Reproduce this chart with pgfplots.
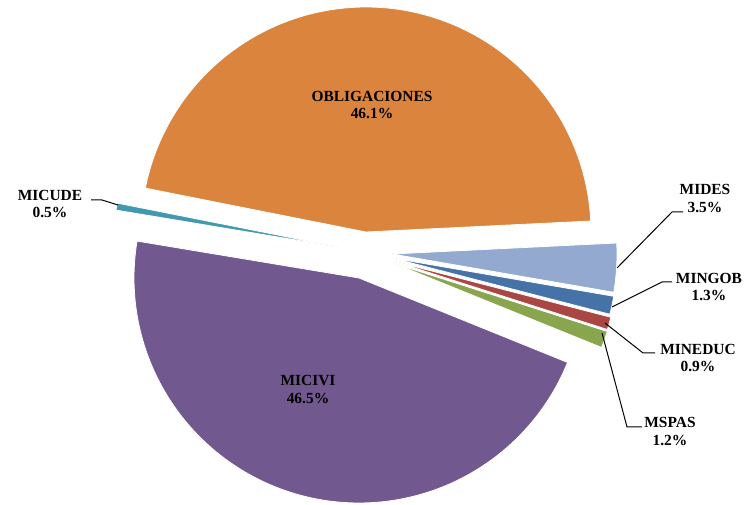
\documentclass[border=0pt]{standalone}
\usepackage{fontspec}
\setmainfont{Liberation Serif}
\usepackage{pgfplots}
\pgfplotsset{compat=1.18}
\definecolor{cOBL}{HTML}{DB843D}
\definecolor{cMIDES}{HTML}{93A9CF}
\definecolor{cMINGOB}{HTML}{4572A7}
\definecolor{cMINEDUC}{HTML}{AA4643}
\definecolor{cMSPAS}{HTML}{89A54E}
\definecolor{cMICIVI}{HTML}{71588F}
\definecolor{cMICUDE}{HTML}{4198AF}
\begin{document}
\begin{tikzpicture}
% shares (%), clockwise from MIDES
\pgfmathsetmacro\vMIDES{3.5}
\pgfmathsetmacro\vMINGOB{1.3}
\pgfmathsetmacro\vMINEDUC{0.9}
\pgfmathsetmacro\vMSPAS{1.2}
\pgfmathsetmacro\vMICIVI{46.5}
\pgfmathsetmacro\vMICUDE{0.5}
\pgfmathsetmacro\vOBL{46.1}
\pgfmathsetmacro\aA{2.8}
\pgfmathsetmacro\aB{\aA-3.6*\vMIDES}
\pgfmathsetmacro\aC{\aB-3.6*\vMINGOB}
\pgfmathsetmacro\aD{\aC-3.6*\vMINEDUC}
\pgfmathsetmacro\aE{\aD-3.6*\vMSPAS}
\pgfmathsetmacro\aF{\aE-3.6*\vMICIVI}
\pgfmathsetmacro\aG{\aF-3.6*\vMICUDE}
\pgfmathsetmacro\aH{\aG-3.6*\vOBL}
\begin{axis}[at={(0,0)}, anchor=south west, width=744bp, height=505bp,
  scale only axis, xmin=0, xmax=744, ymin=0, ymax=505, hide axis, clip=false]
\pgfplotsset{every axis plot/.append style={draw=white, line width=0.8bp, mark=none}}
% slices: tip (x,y), radius 225
\addplot[fill=cMIDES, domain=\aB:\aA, samples=30] ({392+225*cos(x)},{251+225*sin(x)}) -- (392,251) -- cycle;
\addplot[fill=cMINGOB, domain=\aC:\aB, samples=20] ({392+225*cos(x)},{247+225*sin(x)}) -- (392,247) -- cycle;
\addplot[fill=cMINEDUC, domain=\aD:\aC, samples=20] ({393+225*cos(x)},{244+225*sin(x)}) -- (393,244) -- cycle;
\addplot[fill=cMSPAS, domain=\aE:\aD, samples=20] ({393+225*cos(x)},{242+225*sin(x)}) -- (393,242) -- cycle;
\addplot[fill=cMICIVI, domain=\aF:\aE, samples=120] ({359+225*cos(x)},{227+225*sin(x)}) -- (359,227) -- cycle;
\addplot[fill=cMICUDE, domain=\aG:\aF, samples=10] ({338+225*cos(x)},{258+225*sin(x)}) -- (338,258) -- cycle;
\addplot[fill=cOBL, domain=\aH:\aG, samples=120] ({366+225*cos(x)},{273+225*sin(x)}) -- (366,273) -- cycle;
% leader lines
\addplot[draw=black, line width=1bp] coordinates {(617,237) (672,293) (683,293)};
\addplot[draw=black, line width=1bp] coordinates {(612,198) (662,223) (672,223)};
\addplot[draw=black, line width=1bp] coordinates {(605,182) (643,152) (655,152)};
\addplot[draw=black, line width=1bp] coordinates {(602,172) (627,78) (642,78)};
\addplot[draw=black, line width=1bp] coordinates {(118,300) (102,305) (91,305)};
% labels
\tikzset{lbl/.style={align=center, font=\fontsize{15.5}{18}\selectfont\bfseries, inner sep=0pt}}
\node[lbl] at (372,400) {OBLIGACIONES\\46.1\%};
\node[lbl] at (308,115.5) {MICIVI\\46.5\%};
\node[lbl] at (50,301) {MICUDE\\0.5\%};
\node[lbl] at (705,306.5) {MIDES\\3.5\%};
\node[lbl] at (709,218) {MINGOB\\1.3\%};
\node[lbl] at (698,147) {MINEDUC\\0.9\%};
\node[lbl] at (670,73.5) {MSPAS\\1.2\%};
\end{axis}
\pgfresetboundingbox
\path (0,0) rectangle (744bp,505bp);
\end{tikzpicture}
\end{document}
